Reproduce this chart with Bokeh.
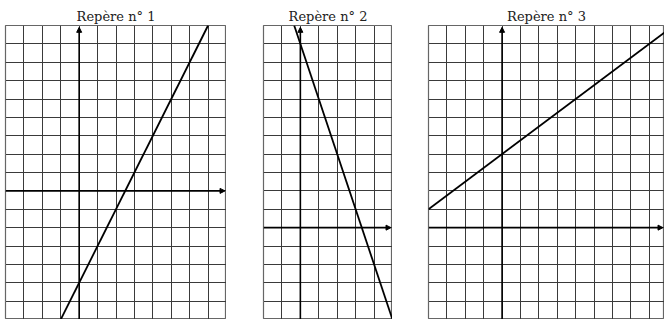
from bokeh.plotting import figure
from bokeh.layouts import row
from bokeh.models import Grid, SingleIntervalTicker, Arrow, NormalHead
from bokeh.embed import file_html
from bokeh.resources import INLINE

# Panel titles
titles = ["Repère n° 1", "Repère n° 2", "Repère n° 3"]

# Axis windows (grid units)
x_ranges = [(-4, 8), (-2, 5), (-4, 8.83)]
y_ranges = [(-7, 9), (-5, 11), (-5, 11)]

# Line endpoints
line1_x = [-1, 7]
line1_y = [-7, 9]
line2_x = [-0.333, 5]
line2_y = [11, -5]
line3_x = [-4, 9]
line3_y = [1, 10.75]

lines_x = [line1_x, line2_x, line3_x]
lines_y = [line1_y, line2_y, line3_y]

left_gaps = [5, 37, 36]
frame_w = [221, 129, 236]
FRAME_H = 294
TOP = 25

figs = []
for i in range(3):
    x0, x1 = x_ranges[i]
    y0, y1 = y_ranges[i]
    p = figure(width=left_gaps[i] + frame_w[i], height=FRAME_H + TOP,
               x_range=(x0, x1), y_range=(y0, y1),
               x_axis_location=None, y_axis_location=None,
               output_backend="svg", toolbar_location=None,
               min_border_left=left_gaps[i], min_border_right=0,
               min_border_top=TOP, min_border_bottom=0,
               title=titles[i])
    p.title.align = "center"
    p.title.text_font = "DejaVu Serif"
    p.title.text_font_style = "normal"
    p.title.text_font_size = "13px"
    p.title.text_color = "#222222"
    p.title.standoff = 4
    p.outline_line_color = "#666666"
    p.outline_line_width = 1.2
    p.background_fill_color = "white"
    p.border_fill_color = "white"
    for d in (0, 1):
        g = Grid(dimension=d, ticker=SingleIntervalTicker(interval=1),
                 grid_line_color="#3a3a3a", grid_line_width=1)
        p.add_layout(g)
    # axes with arrows
    p.add_layout(Arrow(end=NormalHead(size=5, fill_color="black", line_color="black"),
                       x_start=x0, y_start=0, x_end=x1 - 0.08, y_end=0,
                       line_color="black", line_width=1.6))
    p.add_layout(Arrow(end=NormalHead(size=5, fill_color="black", line_color="black"),
                       x_start=0, y_start=y0, x_end=0, y_end=y1 - 0.1,
                       line_color="black", line_width=1.6))
    p.line(lines_x[i], lines_y[i], line_color="black", line_width=1.8)
    figs.append(p)

layout = row(*figs, spacing=0)
open("out.html", "w").write(file_html(layout, INLINE))
